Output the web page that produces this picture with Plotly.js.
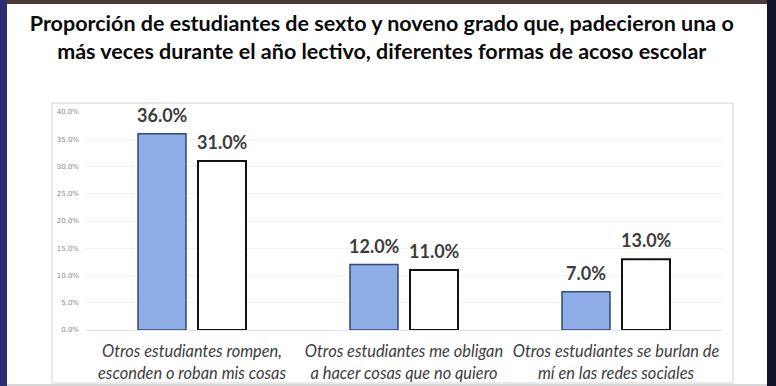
<!DOCTYPE html>
<html>
<head>
<meta charset="utf-8">
<script src="https://cdn.plot.ly/plotly-3.0.1.min.js"></script>
<style>html,body{margin:0;padding:0;background:#fff;}#chart{width:776px;height:386px;}</style>
</head>
<body>
<div id="chart"></div>
<script>
const categories = [
  "Otros estudiantes rompen,<br>esconden o roban mis cosas",
  "Otros estudiantes me obligan<br>a hacer cosas que no quiero",
  "Otros estudiantes se burlan de<br>mí en las redes sociales"
];
const sextoValues = [36.0, 12.0, 7.0];
const novenoValues = [31.0, 11.0, 13.0];
const yTickValues = [0, 5, 10, 15, 20, 25, 30, 35, 40];

const labelFont = {family: "Lato, 'Open Sans', sans-serif", size: 18, color: "#3d3d3d", weight: 700};

const traces = [
  {
    type: "bar", name: "Sexto", x: categories, y: sextoValues,
    marker: {color: "#8FAEE8", line: {color: "#2F4A7A", width: 1.5}}
  },
  {
    type: "bar", name: "Noveno", x: categories, y: novenoValues,
    marker: {color: "#FFFFFF", line: {color: "#111111", width: 2}}
  }
];

function labelAnn(vals, shift) {
  return vals.map((v, i) => ({
    x: categories[i], y: v, xref: "x", yref: "y",
    text: v.toFixed(1) + "%", showarrow: false,
    xshift: shift, yshift: 6, yanchor: "bottom", xanchor: "center",
    font: labelFont
  }));
}

function px(x){ return (x - 86) / 636; }
function py(y){ return (330 - y) / 218; }

const layout = {
  width: 776, height: 386,
  margin: {l: 86, r: 54, t: 112, b: 56},
  paper_bgcolor: "#ffffff", plot_bgcolor: "rgba(0,0,0,0)",
  showlegend: false,
  barmode: "group", bargap: 0.434, bargroupgap: 0.2,
  title: {
    text: "Proporción de estudiantes de sexto y noveno grado que, padecieron una o<br>más veces durante el año lectivo, diferentes formas de acoso escolar",
    font: {family: "Lato, 'Open Sans', sans-serif", size: 21.5, color: "#0a0a0a", weight: 700},
    x: 0.492, xanchor: "center", xref: "container",
    y: 0.919, yanchor: "middle", yref: "container"
  },
  xaxis: {
    showgrid: false, zeroline: false, showline: false, ticks: "",
    tickfont: {family: "Lato, 'Open Sans', sans-serif", size: 16.4, color: "#3d3d3d", style: "italic"},
    range: [-0.5, 2.5], ticklabelstandoff: 10
  },
  yaxis: {
    range: [0, 40], tickvals: yTickValues,
    ticktext: yTickValues.map(v => v.toFixed(1) + "%"),
    tickfont: {family: "'DejaVu Sans', sans-serif", size: 7, color: "#8a8a8a"},
    showgrid: true, gridcolor: "#f2f2f2", gridwidth: 1,
    zeroline: true, zerolinecolor: "#e4e4e4", showline: false, ticks: "",
    ticklabelstandoff: 6
  },
  annotations: labelAnn(sextoValues, -30).concat(labelAnn(novenoValues, 30)),
  shapes: [
    {type: "rect", xref: "paper", yref: "paper", x0: px(52), x1: px(733), y0: py(383), y1: py(103),
     line: {color: "#d4d4d4", width: 1}, fillcolor: "rgba(0,0,0,0)", layer: "below"},
    {type: "rect", xref: "paper", yref: "paper", x0: px(-2), x1: px(7), y0: py(390), y1: py(-4),
     line: {width: 0}, fillcolor: "#2c2e72"},
    {type: "rect", xref: "paper", yref: "paper", x0: px(767), x1: px(780), y0: py(390), y1: py(-4),
     line: {width: 0}, fillcolor: "#12122a"},
    {type: "rect", xref: "paper", yref: "paper", x0: px(7), x1: px(767), y0: py(4), y1: py(-4),
     line: {width: 0}, fillcolor: "#4a3b36"},
    {type: "rect", xref: "paper", yref: "paper", x0: px(7), x1: px(767), y0: py(390), y1: py(384),
     line: {width: 0}, fillcolor: "#d8d8d8"}
  ]
};

Plotly.newPlot("chart", traces, layout, {displayModeBar: false, staticPlot: true});
</script>
</body>
</html>
